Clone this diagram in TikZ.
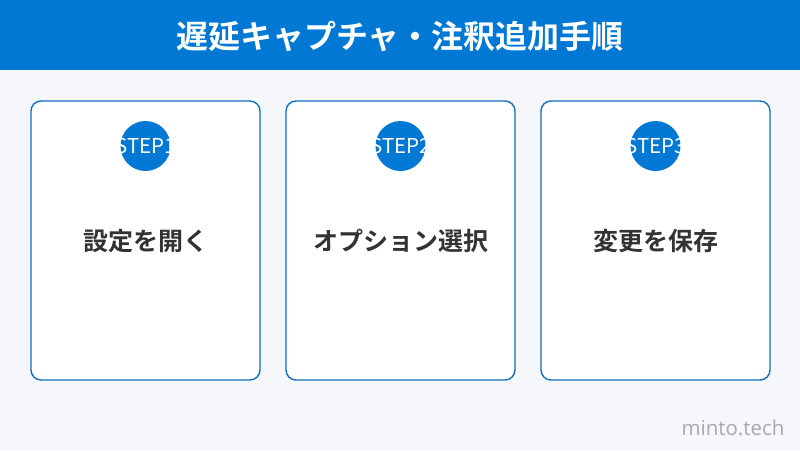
\documentclass[tikz,border=0pt]{standalone}
\usepackage{fontspec}
\newfontfamily\jp{Noto Sans CJK JP}
\newfontfamily\jpb{Noto Sans CJK JP}[BoldFont={* Bold}]
\newfontfamily\wm{Open Sans}
\definecolor{hdr}{RGB}{0,120,212}
\definecolor{bg}{RGB}{245,247,250}
\definecolor{brd}{RGB}{16,110,190}
\definecolor{txt}{RGB}{51,51,51}
\definecolor{wmc}{RGB}{170,170,170}
\tikzset{
  card/.style={draw=brd, line width=1.4pt, fill=white, rounded corners=10pt},
  stepcirc/.style={circle, fill=hdr, minimum size=50pt, inner sep=0pt},
  steptxt/.style={text=white, font=\jp\fontsize{20.5}{20.5}\selectfont},
  cardtxt/.style={text=txt, font=\jpb\bfseries\fontsize{25}{25}\selectfont},
}
\begin{document}
\begin{tikzpicture}[x=1pt,y=-1pt]
\useasboundingbox (0,0) rectangle (800,450);
\fill[bg] (0,0) rectangle (800,450);
\fill[hdr] (0,0) rectangle (800,70);
\node[text=white, font=\jpb\bfseries\fontsize{32}{32}\selectfont] (title) at (400,37) {遅延キャプチャ・注釈追加手順};
\foreach \i/\x/\t in {1/31/設定を開く, 2/286/オプション選択, 3/541/変更を保存} {
  \draw[card] (\x,101) rectangle ++(229,279);
  \node[stepcirc] (c\i) at (\x+114.5,146) {};
  \node[steptxt] (s\i) at (\x+114.5,146) {STEP\i};
  \node[cardtxt] (t\i) at (\x+114.5,241) {\t};
}
\node[text=wmc, font=\wm\fontsize{20.5}{20.5}\selectfont] (wm) at (733,428) {minto.tech};
\end{tikzpicture}
\end{document}
